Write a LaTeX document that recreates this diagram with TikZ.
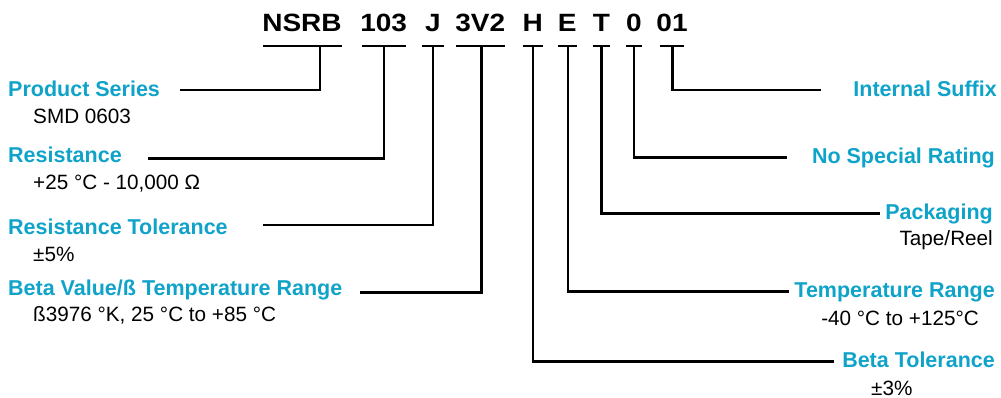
\documentclass[tikz,border=0pt]{standalone}
\usepackage{fontspec}
\setmainfont{Liberation Sans}
\newfontfamily\codefont[FakeStretch=1.12]{Liberation Sans}
\definecolor{labcyan}{RGB}{16,163,201}
\begin{document}
\begin{tikzpicture}[x=1pt,y=-1pt,
  code/.style={font=\codefont\bfseries\fontsize{25}{27}\selectfont, inner sep=0pt, anchor=base},
  ttl/.style={font=\bfseries\fontsize{21.5}{23}\selectfont, text=labcyan, inner sep=0pt},
  sub/.style={font=\fontsize{20.7}{22}\selectfont, text=black, inner sep=0pt},
  ln/.style={line width=2.7pt, black}]
\useasboundingbox (0,0) rectangle (1001,398);
% code groups
\node[code] (c1) at (302,32) {NSRB};
\node[code] (c2) at (383.7,32) {103};
\node[code] (c3) at (433,32) {J};
\node[code] (c4) at (480.3,32) {3V2};
\node[code] (c5) at (532.7,32) {H};
\node[code] (c6) at (567.3,32) {E};
\node[code] (c7) at (601.3,32) {T};
\node[code] (c8) at (634,32) {0};
\node[code] (c9) at (672,32) {01};
% underlines
\coordinate (u1a) at (262.7,46); \coordinate (u1b) at (341.7,46);
\coordinate (u2a) at (361.7,46); \coordinate (u2b) at (405.7,46);
\coordinate (u3a) at (422,46);   \coordinate (u3b) at (444,46);
\coordinate (u4a) at (455.7,46); \coordinate (u4b) at (505,46);
\coordinate (u5a) at (522.7,46); \coordinate (u5b) at (542.7,46);
\coordinate (u6a) at (558,46);   \coordinate (u6b) at (576.7,46);
\coordinate (u7a) at (592.7,46); \coordinate (u7b) at (610,46);
\coordinate (u8a) at (625.7,46); \coordinate (u8b) at (642.3,46);
\coordinate (u9a) at (660,46);   \coordinate (u9b) at (684,46);
\foreach \i in {1,...,9} {\draw[ln] (u\i a) -- (u\i b);}
% stems
\coordinate (s1) at (320,46);
\coordinate (s2) at (384,46);
\coordinate (s3) at (433,46);
\coordinate (s4) at (481.7,46);
\coordinate (s5) at (533,46);
\coordinate (s6) at (568,46);
\coordinate (s7) at (601.7,46);
\coordinate (s8) at (634,46);
\coordinate (s9) at (672.7,46);
% connector ends
\coordinate (e1) at (180,90);
\coordinate (e2) at (148,158.3);
\coordinate (e3) at (263,225);
\coordinate (e4) at (360,292.7);
\coordinate (e5) at (834,361.7);
\coordinate (e6) at (789,291.7);
\coordinate (e7) at (880,213.3);
\coordinate (e8) at (787,157.3);
\coordinate (e9) at (820.7,90);
\foreach \i in {1,...,9} {\draw[ln] (s\i) |- (e\i);}
% left labels
\node[ttl, anchor=base west] (l1) at (8,96.5) {Product Series};
\node[sub, anchor=base west] (l1s) at (33,123.3) {SMD 0603};
\node[ttl, anchor=base west] (l2) at (8,162.3) {Resistance};
\node[sub, anchor=base west] (l2s) at (33,189.3) {+25 °C - 10,000 Ω};
\node[ttl, anchor=base west] (l3) at (8,234.3) {Resistance Tolerance};
\node[sub, anchor=base west] (l3s) at (33,261.7) {±5\%};
\node[ttl, anchor=base west] (l4) at (8,295) {Beta Value/ß Temperature Range};
\node[sub, anchor=base west] (l4s) at (33,321.7) {ß3976 °K, 25 °C to +85 °C};
% right labels
\node[ttl, anchor=base east] (r9) at (997,96.7) {Internal Suffix};
\node[ttl, anchor=base east] (r8) at (995,164) {No Special Rating};
\node[ttl, anchor=base east] (r7) at (993,219.3) {Packaging};
\node[sub, anchor=base east] (r7s) at (993,245) {Tape/Reel};
\node[ttl, anchor=base east] (r6) at (995,297.7) {Temperature Range};
\node[sub, anchor=base east] (r6s) at (979,325) {-40 °C to +125°C};
\node[ttl, anchor=base east] (r5) at (995,367.3) {Beta Tolerance};
\node[sub, anchor=base west] (r5s) at (871,395) {±3\%};
\end{tikzpicture}
\end{document}
